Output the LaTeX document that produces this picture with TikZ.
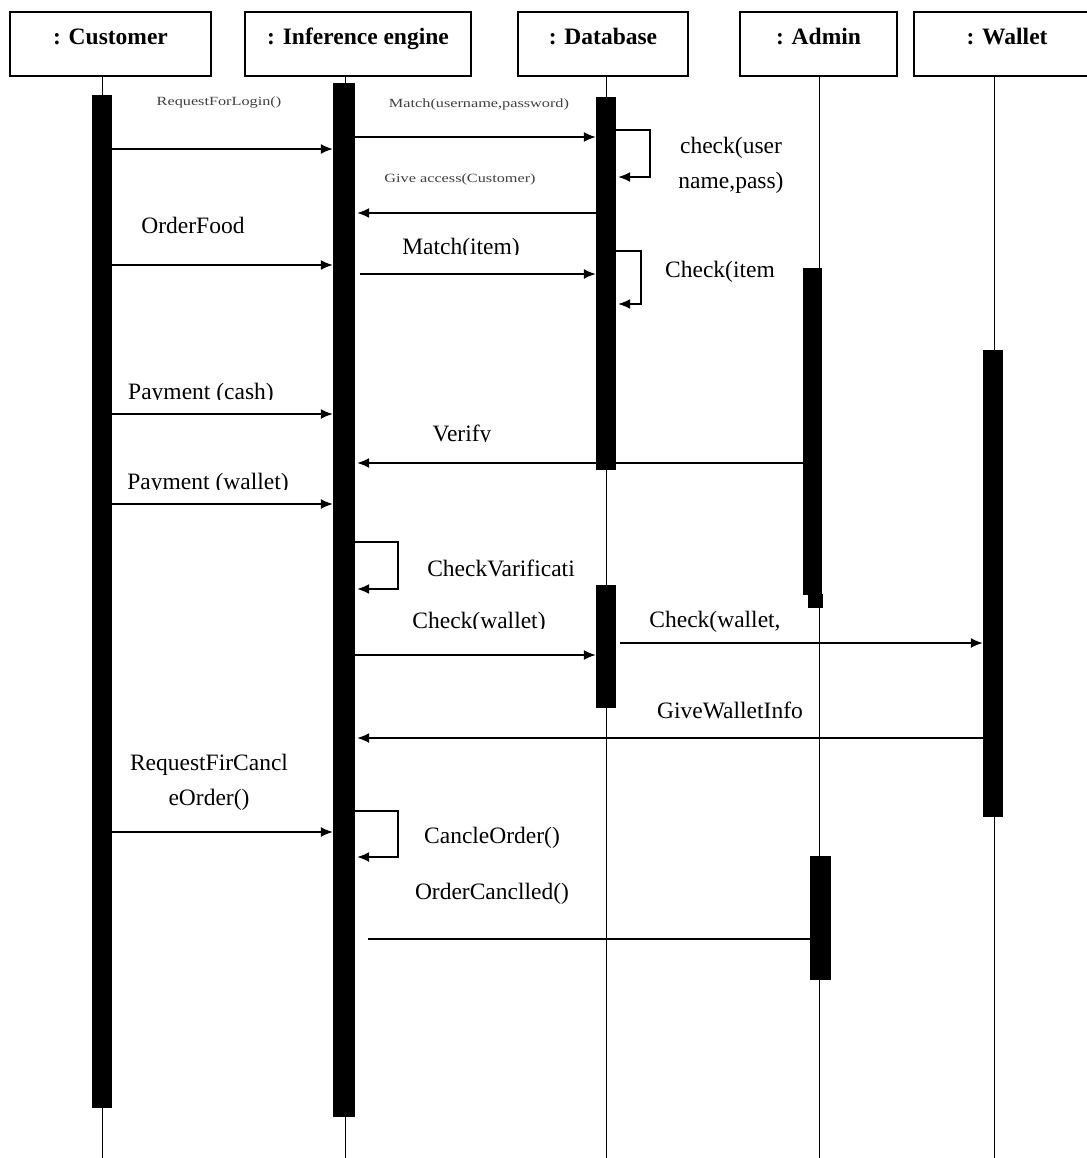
\documentclass[tikz,border=0pt]{standalone}
\usepackage{fontspec}
\setmainfont{Liberation Serif}
\usetikzlibrary{arrows.meta}
\begin{document}
\begin{tikzpicture}[x=1pt,y=-1pt,
  hdr/.style={draw=black, line width=2pt, inner xsep=0pt, inner ysep=4pt, text height=29pt, text depth=27pt, font=\bfseries\fontsize{23.5}{25}\selectfont},
  bar/.style={fill=black, draw=none, inner sep=0pt},
  life/.style={line width=1pt},
  msg/.style={line width=1.5pt, -{Latex[length=12pt,width=10pt]}},
  seg/.style={line width=1.5pt},
  lbl/.style={inner sep=0pt, font=\fontsize{23.5}{26}\selectfont},
  slbl/.style={inner sep=0pt, text=black!75, font=\fontsize{12.5}{14}\selectfont, xscale=1.3}
]
\useasboundingbox (0,0) rectangle (1086,1158);
\fill[white] (0,0) rectangle (1086,1158);
\coordinate (bot) at (0,1158);
\coordinate (xc) at (102,0);
\coordinate (xi) at (345,0);
\coordinate (xd) at (606,0);
\coordinate (xa) at (819,0);
\coordinate (xw) at (994,0);

% headers
\node[hdr, minimum width=201pt] (hc) at (110.5,44) {: Customer};
\node[hdr, minimum width=226pt] (hi) at (358,44) {: Inference engine};
\node[hdr, minimum width=170pt] (hd) at (603,44) {: Database};
\node[hdr, minimum width=157pt] (ha) at (818.5,44) {: Admin};
\node[hdr, minimum width=186pt] (hw) at (1007,44) {: Wallet};

% lifelines
\draw[life] (xc |- hc.south) -- (xc |- bot);
\draw[life] (xi |- hi.south) -- (xi |- bot);
\draw[life] (xd |- hd.south) -- (xd |- bot);
\draw[life] (xa |- ha.south) -- (xa |- bot);
\draw[life] (xw |- hw.south) -- (xw |- bot);

% activation bars
\node[bar, minimum width=20pt, minimum height=1013pt] (cb) at (102,601.5) {};
\node[bar, minimum width=22pt, minimum height=1034pt] (ib) at (344,600) {};
\node[bar, minimum width=20pt, minimum height=373pt] (db1) at (606,283.5) {};
\node[bar, minimum width=20pt, minimum height=123pt] (db2) at (606,646.5) {};
\node[bar, minimum width=19pt, minimum height=327pt] (ab1) at (812.5,431.5) {};
\fill[black] (808,594) rectangle (823,608);
\node[bar, minimum width=21pt, minimum height=124pt] (ab2) at (820.5,918) {};
\node[bar, minimum width=20pt, minimum height=467pt] (wb) at (993,583.5) {};

% messages
\draw[msg] (cb.east |- 0,149) -- (ib.west |- 0,149);
\node[slbl] (l1) at (219,103) {RequestForLogin()};

\draw[msg] (ib.east |- 0,137) -- (db1.west |- 0,137);
\node[slbl] (l2) at (479,104) {Match(username,password)};

\draw[msg] (db1.east |- 0,130) -- (650,130) -- (650,177) -- ([xshift=2pt]db1.east |- 0,177);
\node[lbl] (l3a) at (731,148) {check(user};
\node[lbl] (l3b) at (731,183) {name,pass)};

\draw[msg] (db1.west |- 0,213) -- ([xshift=2pt]ib.east |- 0,213);
\node[slbl] (l4) at (460,179) {Give access(Customer)};

\draw[msg] (cb.east |- 0,265) -- (ib.west |- 0,265);
\node[lbl] (l5) at (193,225) {OrderFood};

\draw[msg] ([xshift=5pt]ib.east |- 0,274) -- (db1.west |- 0,274);
\begin{scope}
\clip (360,220) rectangle (570,254.5);
\node[lbl, anchor=north] (l6) at (461,238) {Match(item)};
\end{scope}

\draw[msg] (db1.east |- 0,251) -- (641,251) -- (641,304) -- ([xshift=2pt]db1.east |- 0,304);
\node[lbl] (l7) at (720,272) {Check(item};

\draw[msg] (cb.east |- 0,414) -- (ib.west |- 0,414);
\begin{scope}
\clip (110,370) rectangle (320,399.5);
\node[lbl, anchor=north] (l8) at (201,383) {Payment (cash)};
\end{scope}

\draw[msg] (ab1.west |- 0,463) -- ([xshift=2pt]ib.east |- 0,463);
\begin{scope}
\clip (380,410) rectangle (560,441.5);
\node[lbl, anchor=north] (l9) at (462,425) {Verify};
\end{scope}

\draw[msg] (cb.east |- 0,504) -- (ib.west |- 0,504);
\begin{scope}
\clip (110,460) rectangle (320,489.5);
\node[lbl, anchor=north] (l10) at (208,473) {Payment (wallet)};
\end{scope}

\draw[msg] (ib.east |- 0,542) -- (398,542) -- (398,589) -- ([xshift=2pt]ib.east |- 0,589);
\node[lbl] (l11) at (501,568) {CheckVarificati};

\draw[msg] (ib.east |- 0,655) -- (db2.west |- 0,655);
\begin{scope}
\clip (370,600) rectangle (590,628.5);
\node[lbl, anchor=north] (l12) at (479,612) {Check(wallet)};
\end{scope}

\draw[msg] ([xshift=4pt]db2.east |- 0,643) -- (wb.west |- 0,643);
\node[lbl] (l13) at (715,622) {Check(wallet,};

\draw[msg] (wb.west |- 0,738) -- ([xshift=2pt]ib.east |- 0,738);
\node[lbl] (l14) at (730,710) {GiveWalletInfo};

\draw[msg] (cb.east |- 0,832) -- (ib.west |- 0,832);
\node[lbl] (l15a) at (209,765) {RequestFirCancl};
\node[lbl] (l15b) at (209,800) {eOrder()};

\draw[msg] (ib.east |- 0,811) -- (398,811) -- (398,857) -- ([xshift=2pt]ib.east |- 0,857);
\node[lbl] (l16) at (492,838) {CancleOrder()};

\draw[seg] ([xshift=13pt]ib.east |- 0,939) -- (ab2.west |- 0,939);
\node[lbl] (l17) at (492,894) {OrderCanclled()};
\end{tikzpicture}
\end{document}
